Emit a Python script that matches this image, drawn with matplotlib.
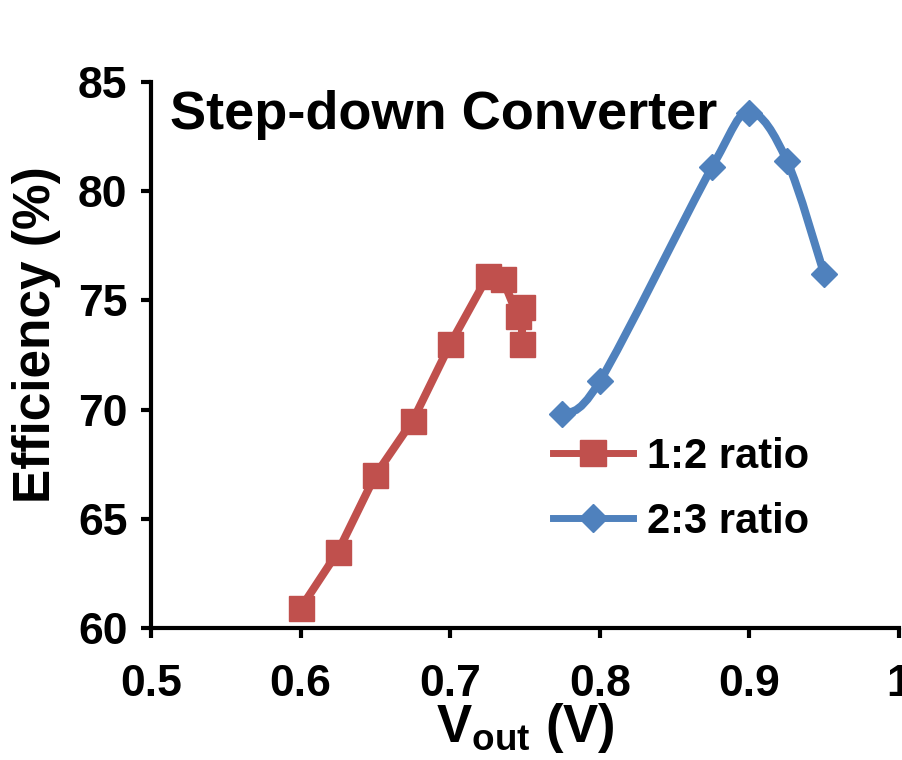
import matplotlib.pyplot as plt
from matplotlib.path import Path
from matplotlib.patches import PathPatch
from matplotlib.lines import Line2D

plt.rcParams['font.family'] = ['Liberation Sans', 'DejaVu Sans']
plt.rcParams['font.weight'] = 'bold'
plt.rcParams['mathtext.fontset'] = 'custom'
plt.rcParams['mathtext.bf'] = 'Liberation Sans:bold'
plt.rcParams['mathtext.rm'] = 'Liberation Sans:bold'

# data
vout_12 = [0.600, 0.625, 0.650, 0.675, 0.700, 0.725, 0.735, 0.745, 0.748, 0.748]
eff_12 = [60.9, 63.5, 67.0, 69.5, 73.0, 76.1, 76.0, 74.3, 74.7, 73.0]

vout_23 = [0.775, 0.800, 0.875, 0.900, 0.925, 0.950]
eff_23 = [69.8, 71.3, 81.1, 83.6, 81.4, 76.2]

red = '#C0504D'
blue = '#4F81BD'

fig = plt.figure(figsize=(9.02, 7.6), dpi=100)
ax = fig.add_axes([0.1674, 0.1737, 0.8293, 0.7184])

ax.plot(vout_12, eff_12, color=red, lw=5.8, marker='s', markersize=18,
        solid_joinstyle='round', zorder=3)


# smooth line (Excel style bezier) through the 2:3 points
def smooth_path(xs, ys):
    pts = list(zip(xs, ys))
    verts = [pts[0]]
    codes = [Path.MOVETO]
    n = len(pts)
    for i in range(n - 1):
        p0 = pts[i - 1] if i > 0 else pts[i]
        p1 = pts[i]
        p2 = pts[i + 1]
        p3 = pts[i + 2] if i + 2 < n else pts[i + 1]
        c1 = (p1[0] + (p2[0] - p0[0]) / 6, p1[1] + (p2[1] - p0[1]) / 6)
        c2 = (p2[0] - (p3[0] - p1[0]) / 6, p2[1] - (p3[1] - p1[1]) / 6)
        verts += [c1, c2, p2]
        codes += [Path.CURVE4] * 3
    return Path(verts, codes)


ax.add_patch(PathPatch(smooth_path(vout_23, eff_23), fill=False,
                       edgecolor=blue, lw=5.8, capstyle='round', zorder=3))
ax.plot(vout_23, eff_23, ls='none', marker='D', color=blue, markersize=13,
        zorder=4)

ax.set_xlim(0.5, 1.0)
ax.set_ylim(60, 85)
ax.set_xticks([0.5, 0.6, 0.7, 0.8, 0.9, 1.0])
ax.set_xticklabels(['0.5', '0.6', '0.7', '0.8', '0.9', '1'])
ax.set_yticks([60, 65, 70, 75, 80, 85])

for s in ['top', 'right']:
    ax.spines[s].set_visible(False)
for s in ['left', 'bottom']:
    ax.spines[s].set_linewidth(3)

ax.tick_params(axis='both', direction='out', length=7, width=3,
               labelsize=32)
ax.tick_params(axis='x', pad=19)
ax.tick_params(axis='y', pad=10)

ax.set_xlabel(r'V$_{\mathbf{out}}$ (V)', fontsize=38, fontweight='bold',
              labelpad=-3)
ax.set_ylabel('Efficiency (%)', fontsize=37, fontweight='bold', labelpad=12)
ax.yaxis.label.set_y(0.537)

ax.text(0.025, 0.985, 'Step-down Converter', transform=ax.transAxes,
        fontsize=39, fontweight='bold', va='top', ha='left')

handles = [
    Line2D([], [], color=red, lw=5, marker='s', markersize=19),
    Line2D([], [], color=blue, lw=5, marker='D', markersize=14),
]
ax.legend(handles, ['1:2 ratio', '2:3 ratio'], loc='upper left',
          bbox_to_anchor=(553 / 902, 1 - 437 / 760),
          bbox_transform=fig.transFigure, frameon=False, fontsize=30,
          borderpad=0, borderaxespad=0, handlelength=1.92,
          handletextpad=0.34, labelspacing=0.6)

fig.savefig('out.png', dpi=100)
